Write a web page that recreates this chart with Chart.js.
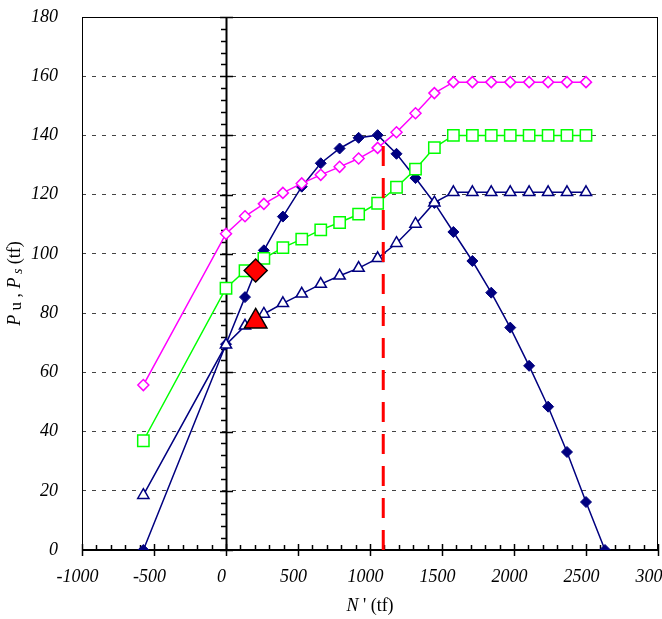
<!DOCTYPE html>
<html>
<head>
<meta charset="utf-8">
<script src="https://cdn.jsdelivr.net/npm/chart.js@4"></script>
<style>
  body { margin: 0; background: #fff; }
  canvas { display: block; }
</style>
</head>
<body>
<canvas id="grafico" width="662" height="619"></canvas>
<script>
// Eixo horizontal N' (tf)
const nPu = [-574, 0, 132, 263, 395, 526, 658, 789, 921, 1053, 1184, 1316, 1447, 1579, 1711, 1842, 1974, 2105, 2237, 2368, 2500, 2632];
const nPs = [-574, 0, 132, 263, 395, 526, 658, 789, 921, 1053, 1184, 1316, 1447, 1579, 1711, 1842, 1974, 2105, 2237, 2368, 2500];

// Pu (losango azul cheio)
const puValues = [0, 69.5, 85.4, 101.2, 112.6, 122.7, 130.6, 135.6, 139.2, 140.1, 133.8, 125.6, 117.2, 107.4, 97.6, 86.9, 75.1, 62.2, 48.4, 33.1, 16.2, 0];
// Ps - tres curvas
const psMagenta = [55.7, 106.8, 112.7, 116.9, 120.6, 123.8, 126.7, 129.4, 132.2, 135.8, 141.1, 147.5, 154.3, 158, 158, 158, 158, 158, 158, 158, 158];
const psGreen = [36.9, 88.4, 94.3, 98.5, 102.1, 105.0, 108.1, 110.6, 113.4, 117.1, 122.5, 128.6, 135.9, 140, 140, 140, 140, 140, 140, 140, 140];
const psTriangle = [18.5, 69.3, 75.7, 79.7, 83.3, 86.5, 89.8, 92.6, 95.2, 98.5, 103.6, 110.1, 117.3, 120.8, 120.8, 120.8, 120.8, 120.8, 120.8, 120.8, 120.8];

// Pontos de destaque (vermelho)
const destaqueN = [206];
const destaqueDiamond = [94.4];
const destaqueTriangle = [77.2];

// Linha tracejada vermelha
const linhaN = [1092, 1092];
const linhaP = [0, 137];

// Ticks dos eixos
const xTicks = [-1000, -500, 0, 500, 1000, 1500, 2000, 2500, 3000];
const yTicks = [0, 20, 40, 60, 80, 100, 120, 140, 160, 180];

const NAVY = '#000080';
const SERIF = '"Liberation Serif", "Times New Roman", serif';

function pares(xs, ys) {
  return ys.map((y, i) => ({ x: xs[i], y: y }));
}

// Desenha eixos em x=0 / y=0 com ticks e a moldura
const eixosPlugin = {
  id: 'eixos',
  beforeDatasetsDraw(chart) {
    const { ctx, chartArea: a, scales: { x, y } } = chart;
    const x0 = Math.round(x.getPixelForValue(0));
    const y0 = Math.round(y.getPixelForValue(0));
    ctx.save();
    // moldura
    ctx.strokeStyle = '#000';
    ctx.lineWidth = 1;
    ctx.strokeRect(a.left + 0.5, a.top + 0.5, a.right - a.left - 1, a.bottom - a.top);

    ctx.lineWidth = 1.5;
    // ticks x (menores cada 100)
    for (let v = -1000; v <= 3000; v += 100) {
      const px = Math.round(x.getPixelForValue(v)) + 0.5;
      ctx.beginPath();
      if (v % 500 === 0) {
        ctx.moveTo(px, y0 - 6); ctx.lineTo(px, y0 + 6);
      } else {
        ctx.moveTo(px, y0 - 5); ctx.lineTo(px, y0);
      }
      ctx.stroke();
    }
    // ticks y (menores cada 4)
    for (let v = 0; v <= 180; v += 4) {
      const py = Math.round(y.getPixelForValue(v)) + 0.5;
      ctx.beginPath();
      if (v % 20 === 0) {
        ctx.moveTo(x0 - 6, py); ctx.lineTo(x0 + 7, py);
      } else {
        ctx.moveTo(x0 - 5, py); ctx.lineTo(x0, py);
      }
      ctx.stroke();
    }
    // linhas dos eixos
    ctx.lineWidth = 2;
    ctx.beginPath();
    ctx.moveTo(a.left, y0); ctx.lineTo(a.right, y0);
    ctx.moveTo(x0 + 0.5, a.top); ctx.lineTo(x0 + 0.5, a.bottom);
    ctx.stroke();
    ctx.restore();
  },
  afterDraw(chart) {
    const { ctx, chartArea: a } = chart;
    ctx.save();
    ctx.fillStyle = '#000';
    ctx.textBaseline = 'middle';

    // titulo do eixo x: N' (tf)
    const partesX = [
      { t: 'N', f: 'italic 18px ' + SERIF, dy: 0 },
      { t: " '", f: '18px ' + SERIF, dy: 0 },
      { t: ' (tf)', f: '18px ' + SERIF, dy: 0 }
    ];
    desenharPartes(ctx, partesX, (a.left + a.right) / 2, 606);

    // titulo do eixo y: Pu , Ps (tf)
    ctx.translate(15, (a.top + a.bottom) / 2);
    ctx.rotate(-Math.PI / 2);
    const partesY = [
      { t: 'P', f: 'italic 18px ' + SERIF, dy: 0 },
      { t: ' u', f: '17px ' + SERIF, dy: 2 },
      { t: ' , ', f: '18px ' + SERIF, dy: 0 },
      { t: 'P', f: 'italic 18px ' + SERIF, dy: 0 },
      { t: ' s', f: 'italic 14px ' + SERIF, dy: 3 },
      { t: ' (tf)', f: '18px ' + SERIF, dy: 0 }
    ];
    desenharPartes(ctx, partesY, 0, 0);
    ctx.restore();
  }
};

function desenharPartes(ctx, partes, cx, cy) {
  let total = 0;
  partes.forEach(p => { ctx.font = p.f; p.w = ctx.measureText(p.t).width; total += p.w; });
  let px = cx - total / 2;
  ctx.textAlign = 'left';
  partes.forEach(p => {
    ctx.font = p.f;
    ctx.fillText(p.t, px, cy + p.dy);
    px += p.w;
  });
}

const config = {
  type: 'scatter',
  data: {
    datasets: [
      {
        label: 'destaque losango',
        data: pares(destaqueN, destaqueDiamond),
        pointStyle: 'rectRot',
        pointRadius: 11.5,
        backgroundColor: '#ff0000',
        borderColor: '#000',
        borderWidth: 1.5,
        order: 0
      },
      {
        label: 'destaque triangulo',
        data: pares(destaqueN, destaqueTriangle),
        pointStyle: 'triangle',
        pointRadius: 13,
        backgroundColor: '#ff0000',
        borderColor: '#000',
        borderWidth: 1.5,
        order: 0
      },
      {
        label: 'limite',
        data: pares(linhaN, linhaP),
        showLine: true,
        borderColor: '#ff0000',
        borderWidth: 3,
        borderDash: [20, 12],
        pointRadius: 0,
        order: 1
      },
      {
        label: 'Ps triangulo',
        data: pares(nPs, psTriangle),
        showLine: true,
        borderColor: NAVY,
        borderWidth: 1.5,
        pointStyle: 'triangle',
        pointRadius: 6.5,
        pointBackgroundColor: '#fff',
        pointBorderColor: NAVY,
        pointBorderWidth: 1.5,
        order: 2
      },
      {
        label: 'Ps verde',
        data: pares(nPs, psGreen),
        showLine: true,
        borderColor: '#00ff00',
        borderWidth: 1.5,
        pointStyle: 'rect',
        pointRadius: 8,
        pointBackgroundColor: '#fff',
        pointBorderColor: '#00ff00',
        pointBorderWidth: 1.5,
        order: 3
      },
      {
        label: 'Ps magenta',
        data: pares(nPs, psMagenta),
        showLine: true,
        borderColor: '#ff00ff',
        borderWidth: 1.5,
        pointStyle: 'rectRot',
        pointRadius: 5.5,
        pointBackgroundColor: '#fff',
        pointBorderColor: '#ff00ff',
        pointBorderWidth: 1.5,
        order: 4
      },
      {
        label: 'Pu',
        data: pares(nPu, puValues),
        showLine: true,
        borderColor: NAVY,
        borderWidth: 1.5,
        pointStyle: 'rectRot',
        pointRadius: 5.5,
        pointBackgroundColor: NAVY,
        pointBorderColor: NAVY,
        pointBorderWidth: 1,
        order: 5
      }
    ]
  },
  options: {
    responsive: false,
    animation: false,
    devicePixelRatio: 1,
    events: [],
    layout: { autoPadding: false, padding: { top: 17, right: 4, left: 0, bottom: 0 } },
    plugins: { legend: { display: false }, tooltip: { enabled: false } },
    scales: {
      x: {
        type: 'linear',
        min: -1000,
        max: 3000,
        afterBuildTicks: s => { s.ticks = xTicks.map(v => ({ value: v })); },
        afterFit: s => { s.height = 69; s.paddingLeft = 0; s.paddingRight = 0; },
        ticks: {
          font: { family: SERIF, size: 18, style: 'italic' },
          color: '#000',
          padding: 16,
          maxRotation: 0,
          autoSkip: false,
          callback: v => v + '\u2002'
        },
        grid: { display: false, drawTicks: false },
        border: { display: false }
      },
      y: {
        type: 'linear',
        min: 0,
        max: 180,
        afterBuildTicks: s => { s.ticks = yTicks.map(v => ({ value: v })); },
        afterFit: s => { s.width = 82; s.paddingTop = 0; s.paddingBottom = 0; },
        ticks: {
          font: { family: SERIF, size: 18, style: 'italic' },
          color: '#000',
          padding: 24,
          autoSkip: false
        },
        grid: { color: '#444', lineWidth: 1, drawTicks: false },
        border: { display: false, dash: [4, 6] }
      }
    }
  },
  plugins: [eixosPlugin]
};

new Chart(document.getElementById('grafico'), config);
</script>
</body>
</html>
